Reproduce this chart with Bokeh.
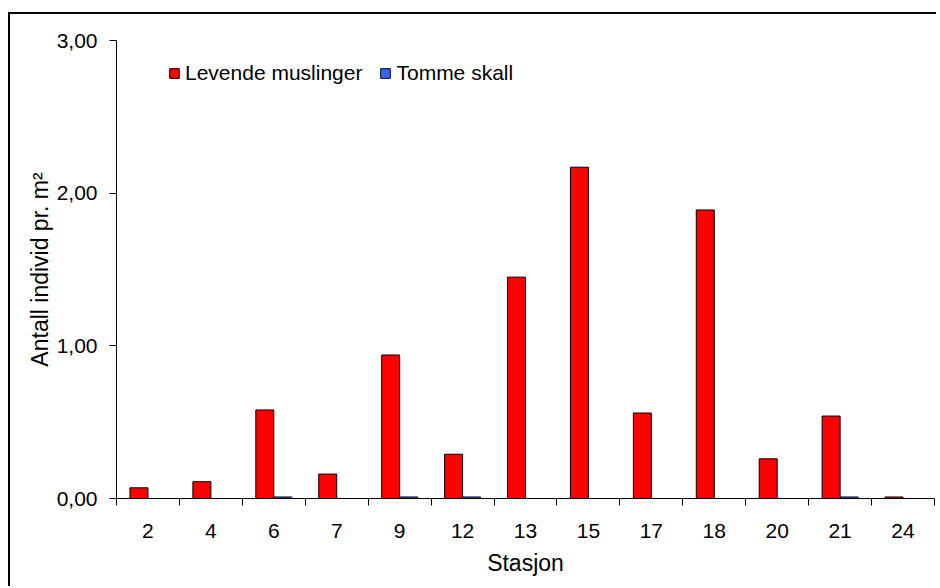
import numpy as np
from bokeh.plotting import figure
from bokeh.models import (Range1d, FixedTicker, Legend, LegendItem,
                          ColumnDataSource)
from bokeh.transform import dodge
from bokeh.embed import file_html
from bokeh.resources import INLINE

# ---- data -------------------------------------------------------------
stations = ["2", "4", "6", "7", "9", "12", "13", "15", "17", "18", "20", "21", "24"]
levende = [0.07, 0.11, 0.58, 0.16, 0.94, 0.29, 1.45, 2.17, 0.56, 1.89, 0.26, 0.54, 0.01]
tomme = [0.0, 0.0, 0.01, 0.0, 0.01, 0.01, 0.0, 0.0, 0.0, 0.0, 0.0, 0.01, 0.0]
y_ticks = [0, 1, 2, 3]
y_tick_labels = ["0,00", "1,00", "2,00", "3,00"]
series_names = ["Levende muslinger", "Tomme skall"]

# ---- styling ----------------------------------------------------------
FONT = "Liberation Sans"
FS = "21px"
FS_TITLE = "23px"
BAR_W = 0.286

idx = list(range(len(stations)))
src = ColumnDataSource(dict(x=idx, levende=levende, tomme=tomme))

p = figure(width=928, height=574,
           x_range=Range1d(-0.5, len(stations) - 0.5),
           y_range=Range1d(0, 3),
           output_backend="svg", toolbar_location=None,
           min_border_left=106, min_border_right=4,
           min_border_top=26, min_border_bottom=90)
p.styles = {"border-top": "2px solid black", "border-left": "2px solid black",
            "margin-top": "12px", "margin-left": "8px"}

p.outline_line_color = None
p.xgrid.grid_line_color = None
p.ygrid.grid_line_color = None
p.background_fill_color = "white"
p.border_fill_color = "white"

r1 = p.vbar(x=dodge("x", -BAR_W / 2, range=p.x_range), top="levende", width=BAR_W,
            source=src, fill_color="#FF0000", line_color="black", line_width=1)
r2 = p.vbar(x=dodge("x", BAR_W / 2, range=p.x_range), top="tomme", width=BAR_W,
            source=src, fill_color="#3366FF", line_color="black", line_width=1)

# x axis: ticks at category boundaries, labels at centres
xa = p.xaxis[0]
xa.ticker = FixedTicker(ticks=idx, minor_ticks=[i - 0.5 for i in range(len(stations) + 1)])
xa.major_label_overrides = {i: s for i, s in zip(idx, stations)}
xa.major_tick_line_color = None
xa.major_tick_out = 7
xa.major_tick_in = 0
xa.minor_tick_out = 7
xa.minor_tick_in = 0
xa.minor_tick_line_color = "black"
xa.axis_line_color = "black"
xa.major_label_text_font = FONT
xa.major_label_text_font_size = FS
xa.major_label_text_color = "black"
xa.major_label_standoff = 18
xa.axis_label = "Stasjon"
xa.axis_label_text_font = FONT
xa.axis_label_text_font_size = FS_TITLE
xa.axis_label_text_font_style = "normal"
xa.axis_label_text_color = "black"
xa.axis_label_standoff = 9

ya = p.yaxis[0]
ya.ticker = FixedTicker(ticks=y_ticks)
ya.major_label_overrides = {t: s for t, s in zip(y_ticks, y_tick_labels)}
ya.major_tick_out = 7
ya.major_tick_in = 0
ya.minor_tick_line_color = None
ya.axis_line_color = "black"
ya.major_tick_line_color = "black"
ya.major_label_text_font = FONT
ya.major_label_text_font_size = FS
ya.major_label_text_color = "black"
ya.major_label_standoff = 12
ya.axis_label = "Antall individ pr. m²"
ya.axis_label_text_font = FONT
ya.axis_label_text_font_size = FS_TITLE
ya.axis_label_text_font_style = "normal"
ya.axis_label_text_color = "black"
ya.axis_label_standoff = 1

legend = Legend(items=[LegendItem(label=series_names[0], renderers=[r1]),
                       LegendItem(label=series_names[1], renderers=[r2])],
                orientation="horizontal", location=(52, 413),
                border_line_color=None, background_fill_alpha=0,
                padding=0, margin=0, spacing=17,
                glyph_width=12, glyph_height=12, label_standoff=5,
                label_text_font=FONT, label_text_font_size=FS,
                label_text_color="black")
p.add_layout(legend)

open("out.html", "w").write(file_html(p, INLINE))
